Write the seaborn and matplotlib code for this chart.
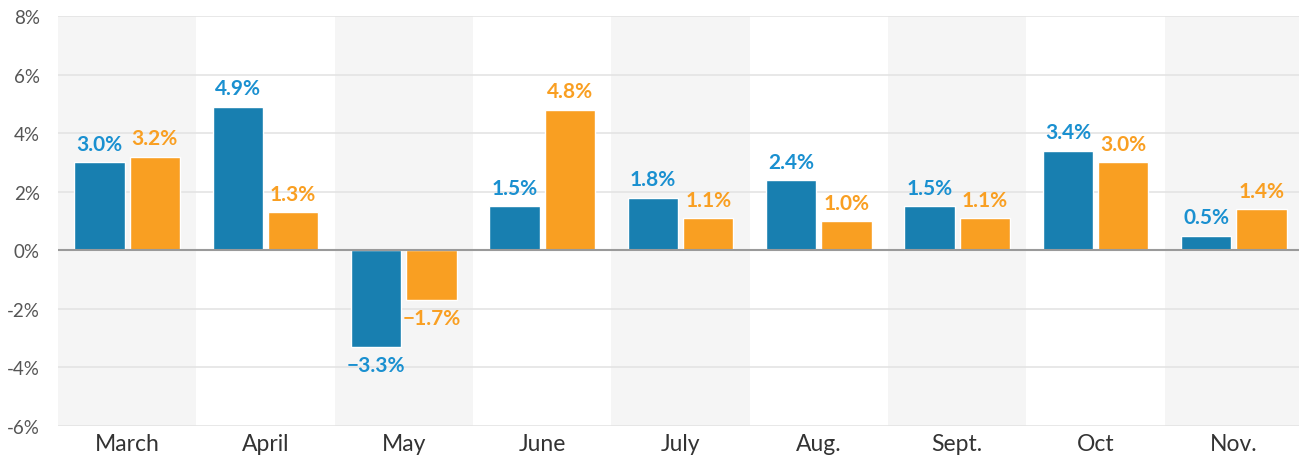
import matplotlib.pyplot as plt
import seaborn as sns
import pandas as pd

# 数据
months = ['March', 'April', 'May', 'June', 'July', 'Aug.', 'Sept.', 'Oct', 'Nov.']
series_a = [3.0, 4.9, -3.3, 1.5, 1.8, 2.4, 1.5, 3.4, 0.5]
series_b = [3.2, 1.3, -1.7, 4.8, 1.1, 1.0, 1.1, 3.0, 1.4]
yticks = [-6, -4, -2, 0, 2, 4, 6, 8]

bar_colors = ['#187fb0', '#f99f22']
label_colors = ['#1a90d0', '#f99f22']

df = pd.DataFrame({
    'month': months * 2,
    'value': series_a + series_b,
    'series': ['A'] * len(months) + ['B'] * len(months),
})

sns.set_style('white')
plt.rcParams['font.family'] = ['Lato', 'DejaVu Sans']

fig = plt.figure(figsize=(12.99, 4.6), dpi=100)
ax = fig.add_axes([58 / 1299, 1 - 427 / 460, 1 - 58 / 1299, (427 - 17) / 460])

# 交替背景
for i in range(0, len(months), 2):
    ax.axvspan(i - 0.5, i + 0.5, color='#f5f5f5', zorder=0, lw=0)

for t in yticks:
    ax.axhline(t, color='#e4e4e4', lw=1.2, zorder=0.5)
ax.axhline(0, color='#9a9a9a', lw=1.5, zorder=3)

sns.barplot(
    data=df,
    x='month',
    y='value',
    hue='series',
    palette=bar_colors,
    width=0.8,
    gap=0.09,
    saturation=1,
    legend=False,
    ax=ax,
    zorder=2,
)

# 数值标签
for container, color in zip(ax.containers, label_colors):
    labels = [f'{v:.1f}%'.replace('-', '\u2212') for v in container.datavalues]
    for bar, lab, v in zip(container, labels, container.datavalues):
        x = bar.get_x() + bar.get_width() / 2
        if v >= 0:
            ax.annotate(lab, (x, v), xytext=(0, 6), textcoords='offset points',
                        ha='center', va='bottom', color=color, fontsize=15,
                        fontweight='bold')
        else:
            ax.annotate(lab, (x, v), xytext=(0, -6), textcoords='offset points',
                        ha='center', va='top', color=color, fontsize=15,
                        fontweight='bold')

ax.set_ylim(-6, 8)
ax.set_xlim(-0.5, len(months) - 0.5 - 4 / 138)
ax.set_yticks(yticks)
ax.set_yticklabels([f'{t}%' for t in yticks], color='#555555', fontsize=13.5)
ax.tick_params(axis='y', length=0, pad=13)
ax.tick_params(axis='x', length=0, pad=5, labelsize=16.5, labelcolor='#333333')
ax.set_xlabel('')
ax.set_ylabel('')
sns.despine(ax=ax, left=True, bottom=True)

plt.savefig('out.png', dpi=100)
